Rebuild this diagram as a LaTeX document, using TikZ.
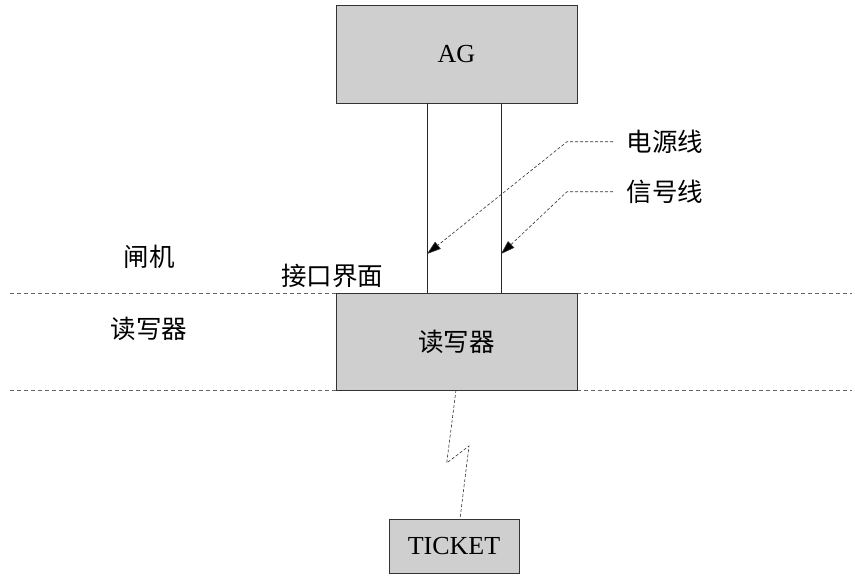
\documentclass[tikz,border=0pt]{standalone}
\usepackage{fontspec}
\setmainfont{Liberation Serif}
\newfontfamily\cjk{Noto Sans CJK SC}
\usetikzlibrary{arrows.meta}
\begin{document}
\begin{tikzpicture}[x=1pt,y=-1pt,
  boxst/.style={draw=black!80,fill=black!19,line width=0.9pt,inner sep=0pt},
  sep/.style={draw=black!60,line width=0.7pt,dash pattern=on 4pt off 3pt},
  ptr/.style={draw=black!80,line width=0.6pt,dash pattern=on 3pt off 2pt,-{Triangle[length=14pt,width=9pt,fill=black]}},
  wire/.style={draw=black!85,line width=0.9pt},
  lbl/.style={font=\cjk\fontsize{25.5}{28}\selectfont,inner sep=0pt},
  ltr/.style={font=\fontsize{26}{30}\selectfont,inner sep=0pt}]
\useasboundingbox (0,0) rectangle (855,579);
\fill[white] (0,0) rectangle (855,579);
% separators
\coordinate (s1a) at (10,293); \coordinate (s1b) at (852,293);
\coordinate (s2a) at (10,390); \coordinate (s2b) at (852,390);
\draw[sep] (s1a) -- (s1b);
\draw[sep] (s2a) -- (s2b);
% boxes
\node[boxst,minimum width=241pt,minimum height=98pt,ltr] (ag) at (456.5,54) {AG};
\node[boxst,minimum width=241pt,minimum height=97pt,lbl] (rw) at (456.5,341.5) {读写器};
\node[boxst,minimum width=130pt,minimum height=54pt,ltr] (tk) at (454,546) {TICKET};
% wires
\coordinate (w1t) at (427,103); \coordinate (w1b) at (427,293);
\coordinate (w2t) at (501,103); \coordinate (w2b) at (501,293);
\draw[wire] (w1t) -- (w1b);
\draw[wire] (w2t) -- (w2b);
% labels
\node[lbl] (pw) at (665,142) {电源线};
\node[lbl] (sg) at (665,192) {信号线};
\node[lbl] (zj) at (149,257) {闸机};
\node[lbl] (dx) at (149,329) {读写器};
\node[lbl] (jk) at (332,276) {接口界面};
% pointers
\coordinate (p1a) at (613,141.7); \coordinate (p1b) at (567,141.7); \coordinate (p1c) at (427,254);
\coordinate (p2a) at (613,191.7); \coordinate (p2b) at (567,191.7); \coordinate (p2c) at (501,254);
\draw[ptr] (p1a) -- (p1b) -- (p1c);
\draw[ptr] (p2a) -- (p2b) -- (p2c);
% lightning
\coordinate (l1) at (456,390); \coordinate (l2) at (446.7,463);
\coordinate (l3) at (469,446); \coordinate (l4) at (460,519);
\draw[draw=black!80,line width=0.6pt,dash pattern=on 3pt off 2pt] (l1) -- (l2) -- (l3) -- (l4);
\end{tikzpicture}
\end{document}
